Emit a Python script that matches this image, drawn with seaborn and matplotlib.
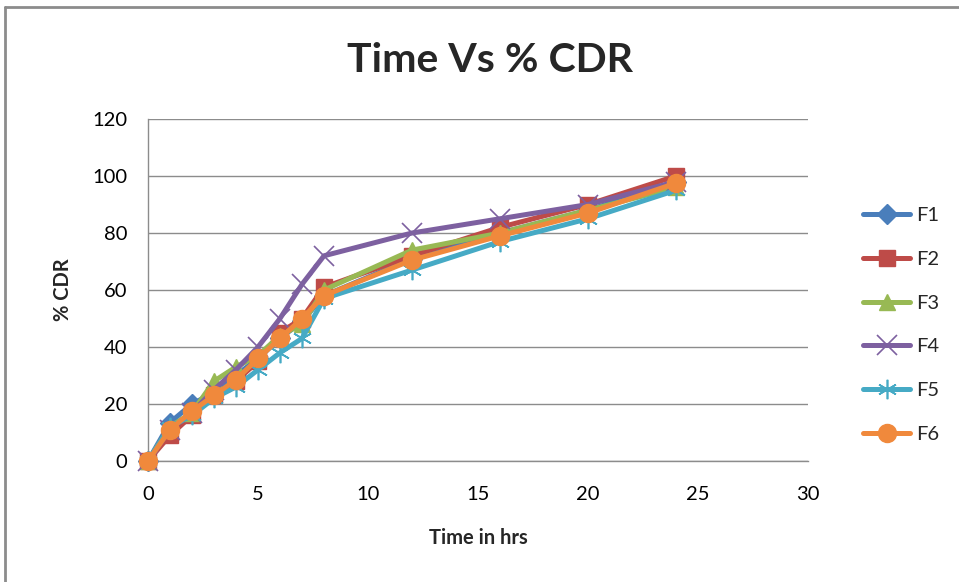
import matplotlib
matplotlib.use("Agg")
import matplotlib.pyplot as plt
import seaborn as sns
import pandas as pd
from matplotlib.lines import Line2D

# ---- data ----
time_hrs = [0, 1, 2, 3, 4, 5, 6, 7, 8, 12, 16, 20, 24]
F1 = [0, 13.5, 20, 24, 30, 36, 43, 49, 58, 71, 80, 88, 98]
F2 = [0, 9, 16, 23, 28, 35, 45, 50, 61, 72, 82, 90, 100]
F3 = [0, 12, 17, 28, 33, 37, 44, 48, 60, 74, 80, 88, 96]
F4 = [0, 11, 17, 25, 32, 40, 50, 62, 72, 80, 85, 90, 98]
F5 = [0, 12, 16, 22, 26, 32, 38, 43, 57, 67, 77, 85, 95]
F6 = [0, 11, 17.5, 23, 28.5, 36, 43, 50, 58, 70.5, 79, 87, 97.5]
series_names = ["F1", "F2", "F3", "F4", "F5", "F6"]
series_values = [F1, F2, F3, F4, F5, F6]
x_ticks = [0, 5, 10, 15, 20, 25, 30]
y_ticks = [0, 20, 40, 60, 80, 100, 120]

colors = ["#4A7EBB", "#BE4B48", "#98B954", "#7D60A0", "#46AAC5", "#F0893C"]
markers = ["D", "s", "^", "x", (6, 2, 0), "o"]
msizes = [10, 12, 11, 14, 14, 13]
mew = [1, 1, 1, 1.2, 1.2, 1]

sns.set_style("white")
plt.rcParams["font.family"] = ["Lato", "DejaVu Sans"]

fig = plt.figure(figsize=(9.59, 5.82), dpi=100)
ax = fig.add_axes([148 / 959, 1 - 461 / 582, (808 - 148) / 959, (461 - 119) / 582])

for name, vals, c, m, ms, mw in zip(series_names, series_values, colors, markers, msizes, mew):
    df = pd.DataFrame({"Time": time_hrs, "CDR": vals})
    filled = m not in ("x", (6, 2, 0))
    sns.lineplot(data=df, x="Time", y="CDR", ax=ax, color=c, linewidth=3.6,
                 marker=m, markersize=ms,
                 markeredgecolor=c,
                 markeredgewidth=(1 if filled else mw),
                 markerfacecolor=(c if filled else "none"),
                 label=name, solid_capstyle="round", clip_on=False, zorder=3)

ax.set_xlim(0, 30)
ax.set_ylim(0, 120)
ax.set_xticks(x_ticks)
ax.set_yticks(y_ticks)
ax.grid(axis="y", color="#8C8C8C", linewidth=1.0)
ax.grid(axis="x", visible=False)
ax.set_axisbelow(True)
for s in ["top", "right"]:
    ax.spines[s].set_visible(False)
for s in ["left", "bottom"]:
    ax.spines[s].set_color("#8C8C8C")
    ax.spines[s].set_linewidth(1.0)
ax.tick_params(axis="both", which="both", direction="out", length=7, width=1,
               color="#8C8C8C", labelsize=14.5, labelcolor="#000000")
ax.tick_params(axis="y", pad=8)
ax.tick_params(axis="x", pad=11)

ax.set_xlabel("Time in hrs", fontsize=14.5, fontweight="bold", labelpad=18)
ax.set_ylabel("% CDR", fontsize=14.5, fontweight="bold", labelpad=14)
fig.text(490 / 959, 1 - 60 / 582, "Time Vs % CDR", ha="center", va="center",
         fontsize=29.5, fontweight="bold")

leg = ax.legend(loc="center left", bbox_to_anchor=(855 / 959, 1 - 325 / 582),
                bbox_transform=fig.transFigure, frameon=False, fontsize=14.5,
                handlelength=2.35, handletextpad=0.3, labelspacing=1.32,
                borderaxespad=0)

# outer chart frame
fig.add_artist(Line2D([5 / 959, 1], [1 - 7 / 582, 1 - 7 / 582], color="#8C8C8C",
                      linewidth=2, transform=fig.transFigure))
fig.add_artist(Line2D([5 / 959, 5 / 959], [0, 1 - 7 / 582], color="#8C8C8C",
                      linewidth=2, transform=fig.transFigure))

fig.savefig("out.png", dpi=100)
